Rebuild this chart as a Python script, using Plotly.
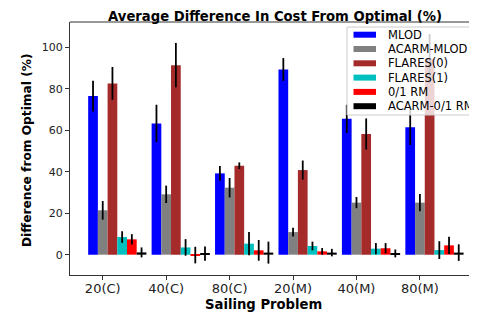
import plotly.graph_objects as go

categories = ["20(C)", "40(C)", "80(C)", "20(M)", "40(M)", "80(M)"]
series_names = ["MLOD", "ACARM-MLOD", "FLARES(0)", "FLARES(1)", "0/1 RM", "ACARM-0/1 RM"]

mlod = [76.5, 63.3, 39.2, 89.3, 65.5, 61.4]
mlod_err = [7.4, 9.0, 3.6, 5.5, 6.8, 8.5]
acarm_mlod = [21.4, 29.1, 32.3, 10.9, 25.1, 25.1]
acarm_mlod_err = [4.5, 4.2, 4.7, 2.1, 2.7, 4.1]
flares0 = [82.6, 91.4, 42.9, 40.8, 58.2, 94.6]
flares0_err = [7.9, 10.7, 1.6, 4.6, 7.5, 11.8]
flares1 = [8.5, 3.5, 5.3, 4.2, 2.9, 2.2]
flares1_err = [2.8, 4.0, 5.6, 2.1, 2.7, 4.3]
rm01 = [7.4, -0.2, 2.1, 1.6, 3.1, 4.5]
rm01_err = [2.5, 4.0, 5.0, 1.6, 2.5, 4.2]
acarm_rm01 = [1.1, 0.5, 1.0, 1.0, 0.6, 1.0]
acarm_rm01_err = [2.4, 3.4, 5.3, 1.8, 1.9, 4.0]

values = [mlod, acarm_mlod, flares0, flares1, rm01, acarm_rm01]
errors = [mlod_err, acarm_mlod_err, flares0_err, flares1_err, rm01_err, acarm_rm01_err]
colors = ["#0000ff", "#808080", "#a52a2a", "#00bfbf", "#ff0000", "#000000"]

w = 0.153
FONT = "DejaVu Sans"
OFF = 8  # page body margin
W, H = 477 - OFF, 316 - OFF
L, R, T, B = 62, 0, 14, 41
PW, PH = W - L - R, H - T - B


def px(X):
    """page x pixel -> paper coordinate"""
    return (X - OFF - L) / PW


def py(Y):
    """page y pixel -> paper coordinate"""
    return (H - B - (Y - OFF)) / PH


fig = go.Figure()
for k, (name, vals, errs, col) in enumerate(zip(series_names, values, errors, colors)):
    xs = [i + (k - 1) * w for i in range(len(categories))]
    fig.add_trace(go.Bar(
        x=xs, y=vals, width=w, name=name, showlegend=False,
        marker=dict(color=col, line=dict(width=0)),
        error_y=dict(type="data", array=errs, visible=True, color="black",
                     thickness=1.8, width=0),
    ))

shapes = [dict(type="line", xref="paper", yref="paper", x0=0, x1=1, y0=1, y1=1,
               line=dict(color="#333", width=1.2))]
annotations = []

# legend (drawn as an overlay box, like matplotlib's)
shapes.append(dict(type="rect", xref="paper", yref="paper", layer="above",
                   x0=px(347), x1=px(476), y0=py(115), y1=py(27),
                   fillcolor="rgba(255,255,255,0.8)", line=dict(color="#cccccc", width=1)))
for k, (name, col) in enumerate(zip(series_names, colors)):
    yc = 34.7 + 14.3 * k
    shapes.append(dict(type="rect", xref="paper", yref="paper", layer="above",
                       x0=px(353.5), x1=px(376), y0=py(yc + 3), y1=py(yc - 3),
                       fillcolor=col, line=dict(width=0)))
    annotations.append(dict(text=name, xref="paper", yref="paper", x=px(385.5), y=py(yc),
                            xanchor="left", yanchor="middle", showarrow=False,
                            font=dict(size=11.5, family=FONT, color="black")))

annotations.append(dict(text="<b>Sailing Problem</b>", xref="paper", yref="paper",
                        x=px(263), y=py(304), xanchor="center", yanchor="middle", showarrow=False,
                        font=dict(size=13.2, family=FONT, color="black")))
annotations.append(dict(text="<b>Difference from Optimal (%)</b>", xref="paper", yref="paper",
                        x=px(27), y=py(150), xanchor="center", yanchor="middle", showarrow=False,
                        textangle=-90, font=dict(size=12.2, family=FONT, color="black")))

fig.update_layout(
    width=W, height=H,
    margin=dict(l=L, r=R, t=T, b=B),
    paper_bgcolor="white", plot_bgcolor="white",
    barmode="overlay",
    font=dict(family=FONT, color="black"),
    title=dict(text="<b>Average Difference In Cost From Optimal (%)</b>",
               x=px(275), xref="paper", xanchor="center", y=1 - (16 - OFF) / H, yanchor="middle",
               font=dict(size=13.2, family=FONT, color="black")),
    xaxis=dict(
        range=[-0.516, 5.9], automargin=False,
        tickmode="array", tickvals=list(range(len(categories))), ticktext=categories,
        ticks="outside", ticklen=4, tickcolor="#333", tickwidth=1,
        ticklabelstandoff=-3,
        showline=True, linecolor="#333", linewidth=1.2, mirror=False,
        showgrid=False, zeroline=False,
        tickfont=dict(size=13, family=FONT, color="#222"),
    ),
    yaxis=dict(
        range=[-9.8, 112.2], automargin=False,
        tickmode="array", tickvals=[0, 20, 40, 60, 80, 100],
        ticks="outside", ticklen=4, tickcolor="#333", tickwidth=1,
        showline=True, linecolor="#333", linewidth=1.2, mirror=False,
        showgrid=False, zeroline=False,
        tickfont=dict(size=11, family=FONT, color="#222"),
    ),
    shapes=shapes,
    annotations=annotations,
)

fig.write_html("out.html")
